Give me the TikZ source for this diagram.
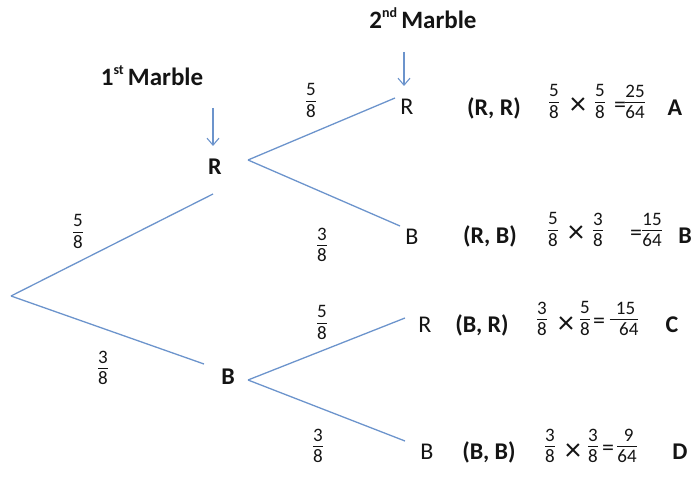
\documentclass[tikz,border=0pt]{standalone}
\usepackage{fontspec}
\setmainfont{Carlito}
\usetikzlibrary{arrows.meta}
\definecolor{branch}{RGB}{108,148,204}
\definecolor{ink}{RGB}{20,20,20}
\newcommand\fr[2]{{\fontsize{19}{20}\selectfont\setlength\tabcolsep{0pt}\setlength\arrayrulewidth{1.1pt}\renewcommand\arraystretch{0.8}\begin{tabular}{c}#1\\[0pt]\hline\rule{0pt}{15.5pt}#2\end{tabular}}}
\tikzset{
  edge/.style={draw=branch, line width=1.3pt},
  pointer/.style={draw=branch, line width=1.1pt, -{Straight Barb[length=7pt,width=12pt]}},
  big/.style={text=ink, font=\fontsize{24}{28}\selectfont, inner sep=0pt},
  bigb/.style={text=ink, font=\bfseries\fontsize{24}{28}\selectfont, inner sep=0pt},
  head/.style={text=ink, font=\bfseries\fontsize{25}{28}\selectfont, inner sep=0pt},
  frac/.style={text=ink, inner sep=0pt},
  times/.style={text=ink, font=\fontsize{32}{34}\selectfont, inner sep=0pt},
  eq/.style={text=ink, font=\fontsize{24}{26}\selectfont, inner sep=0pt},
}
\newcommand\sups[1]{\raisebox{0.45em}{\fontsize{14}{14}\selectfont #1}}
\begin{document}
\begin{tikzpicture}[x=1pt,y=-1pt]
\useasboundingbox (0,0) rectangle (692,478);
% headings
\node[head] (h1) at (152,76) {1\sups{st}\,Marble};
\node[head] (h2) at (423,18) {2\sups{nd}\,Marble};
\coordinate (a1s) at (213,108); \coordinate (a1e) at (213,146);
\coordinate (a2s) at (404,52);  \coordinate (a2e) at (404,86);
\draw[pointer] (a1s) -- (a1e);
\draw[pointer] (a2s) -- (a2e);
% nodes
\node[bigb] (R1) at (215,167) {R};
\node[bigb] (B1) at (228,377) {B};
\node[big] (RR) at (407,107) {R};
\node[big] (RB) at (412,237) {B};
\node[big] (BR) at (425,325) {R};
\node[big] (BB) at (427,452) {B};
% branch coordinates
\coordinate (root) at (11,296);
\coordinate (r1in) at (213,194);
\coordinate (b1in) at (204,364);
\coordinate (r1out) at (248,160);
\coordinate (b1out) at (248,380);
\coordinate (rrin) at (395,98);
\coordinate (rbin) at (400,226);
\coordinate (brin) at (405,318);
\coordinate (bbin) at (405,441);
\draw[edge] (root) -- (r1in);
\draw[edge] (root) -- (b1in);
\draw[edge] (r1out) -- (rrin);
\draw[edge] (r1out) -- (rbin);
\draw[edge] (b1out) -- (brin);
\draw[edge] (b1out) -- (bbin);
% branch probabilities
\node[frac] (p1) at (311,103) {\fr{5}{8}};
\node[frac] (p2) at (322,247) {\fr{3}{8}};
\node[frac] (p3) at (78,234) {\fr{5}{8}};
\node[frac] (p4) at (103,370) {\fr{3}{8}};
\node[frac] (p5) at (322,325) {\fr{5}{8}};
\node[frac] (p6) at (318,448) {\fr{3}{8}};
% row A
\node[bigb] (oA) at (494,108) {(R, R)};
\node[frac] (a1) at (554,104) {\fr{5}{8}};
\node[times] (ax) at (578,106) {×};
\node[frac] (a2) at (600,104) {\fr{5}{8}};
\node[eq] (aq) at (620,107) {=};
\node[frac] (a3) at (635,104) {\fr{25}{64}};
\node[bigb] (lA) at (675,108) {A};
% row B
\node[bigb] (oB) at (490,236) {(R, B)};
\node[frac] (b1) at (553,232) {\fr{5}{8}};
\node[times] (bx) at (576,234) {×};
\node[frac] (b2) at (598,232) {\fr{3}{8}};
\node[eq] (bq) at (636,235) {=};
\node[frac] (b3) at (652,232) {\fr{15}{64}};
\node[bigb] (lB) at (685,236) {B};
% row C
\node[bigb] (oC) at (482,325) {(B, R)};
\node[frac] (c1) at (542,321) {\fr{3}{8}};
\node[times] (cx) at (566,325) {×};
\node[frac] (c2) at (585,321) {\fr{5}{8}};
\node[eq] (cq) at (599,323) {=};
\node[frac] (c3) at (624,321) {\fr{\,15}{\,\,\,64}};
\node[bigb] (lC) at (672,325) {C};
% row D
\node[bigb] (oD) at (489,452) {(B, B)};
\node[frac] (d1) at (550,448) {\fr{3}{8}};
\node[times] (dx) at (573,452) {×};
\node[frac] (d2) at (593,448) {\fr{3}{8}};
\node[eq] (dq) at (608,450) {=};
\node[frac] (d3) at (627,448) {\fr{\,9}{64}};
\node[bigb] (lD) at (680,452) {D};
\end{tikzpicture}
\end{document}
